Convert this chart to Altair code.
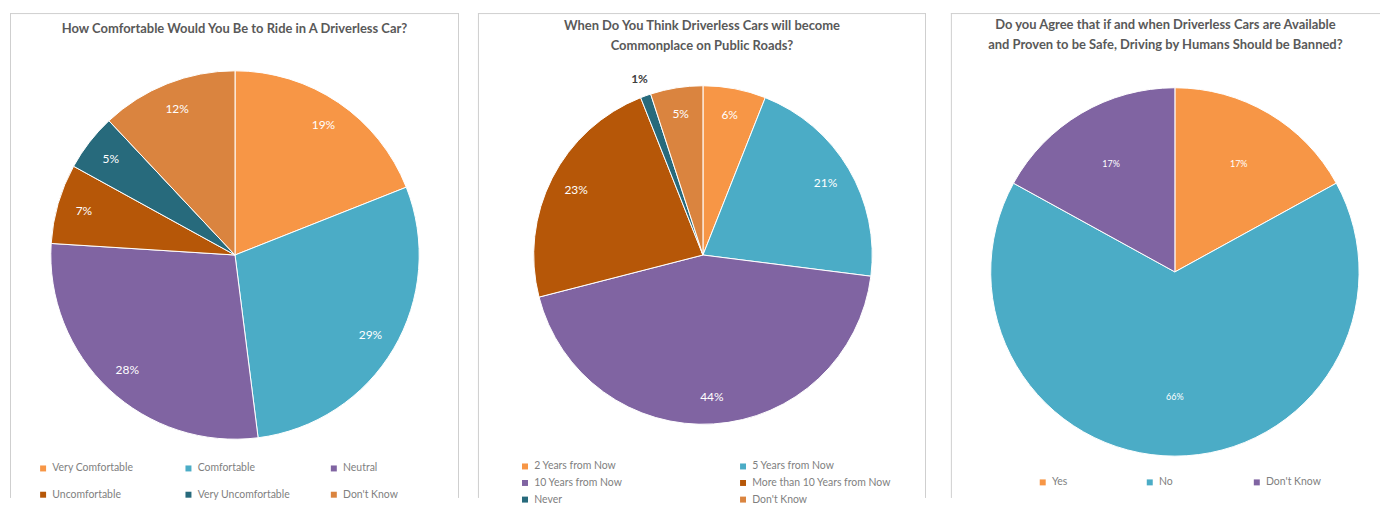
import altair as alt
import pandas as pd

# ---- data ----
q1_title = ["How Comfortable Would You Be to Ride in A Driverless Car?"]
q1_cats = ["Very Comfortable", "Comfortable", "Neutral", "Uncomfortable",
           "Very Uncomfortable", "Don't Know"]
q1_vals = [19, 29, 28, 7, 5, 12]

q2_title = ["When Do You Think Driverless Cars will become",
            "Commonplace on Public Roads?"]
q2_cats = ["2 Years from Now", "5 Years from Now", "10 Years from Now",
           "More than 10 Years from Now", "Never", "Don't Know"]
q2_vals = [6, 21, 44, 23, 1, 5]

q3_title = ["Do you Agree that if and when Driverless Cars are Available",
            "and Proven to be Safe, Driving by Humans Should be Banned?"]
q3_cats = ["Yes", "No", "Don't Know"]
q3_vals = [17, 66, 17]

C_ORANGE = "#F79646"
C_BLUE = "#4BACC6"
C_PURPLE = "#8064A2"
C_DKORANGE = "#B65708"
C_DKTEAL = "#276A7C"
C_MIDORANGE = "#DA843F"

q1_colors = [C_ORANGE, C_BLUE, C_PURPLE, C_DKORANGE, C_DKTEAL, C_MIDORANGE]
q2_colors = [C_ORANGE, C_BLUE, C_PURPLE, C_DKORANGE, C_DKTEAL, C_MIDORANGE]
q3_colors = [C_ORANGE, C_BLUE, C_PURPLE]

FONT = "Lato"
BORDER = "#CFCFCF"


def frame(W, H, right=True):
    one = alt.Chart(pd.DataFrame({"k": [0]}))
    parts = [
        one.mark_rule(color=BORDER, strokeWidth=1).encode(
            x=alt.value(0), x2=alt.value(W), y=alt.value(0.5)),
        one.mark_rule(color=BORDER, strokeWidth=1).encode(
            x=alt.value(0.5), y=alt.value(0), y2=alt.value(H)),
    ]
    if right:
        parts.append(one.mark_rule(color=BORDER, strokeWidth=1).encode(
            x=alt.value(W - 0.5), y=alt.value(0), y2=alt.value(H)))
    return parts


def pie(title, cats, vals, colors, W, H, cx, cy, r, label_r, label_size,
        cols, col_pad, row_pad, lx, ly, title_offset, right=True,
        label_size_legend=10.5):
    df = pd.DataFrame({"cat": cats, "val": vals, "idx": list(range(len(cats)))})
    base = alt.Chart(df).transform_calculate(
        label="datum.val + '%'"
    ).encode(
        theta=alt.Theta("val:Q", stack=True),
        order=alt.Order("idx:Q"),
    )
    arc = base.mark_arc(outerRadius=r, stroke="white", strokeWidth=1).encode(
        color=alt.Color(
            "cat:N",
            scale=alt.Scale(domain=cats, range=colors),
            sort=cats,
            legend=alt.Legend(
                title=None, orient="none", legendX=lx, legendY=ly,
                direction="horizontal",
                columns=cols, columnPadding=col_pad, rowPadding=row_pad,
                gridAlign="all", symbolType="square", symbolSize=36,
                symbolStrokeWidth=0, labelFont=FONT,
                labelFontSize=label_size_legend, labelColor="#7F7F7F",
                padding=0, labelLimit=400,
            ),
        ),
        x=alt.value(cx), y=alt.value(cy),
    )
    small = alt.datum.val < 3
    text_in = base.mark_text(font=FONT, fontSize=label_size, color="white").encode(
        text=alt.Text("label:N"),
        detail="cat:N",
        radius=alt.value(label_r),
        opacity=alt.condition(small, alt.value(0), alt.value(1)),
        x=alt.value(cx), y=alt.value(cy),
    )
    text_out = base.mark_text(font=FONT, fontSize=label_size, color="#404040",
                              fontWeight="bold").encode(
        text=alt.Text("label:N"),
        detail="cat:N",
        radius=alt.value(r + 18),
        opacity=alt.condition(small, alt.value(1), alt.value(0)),
        x=alt.value(cx), y=alt.value(cy),
    )
    return alt.layer(*frame(W, H, right), arc, text_in, text_out).properties(
        width=W, height=H,
        title=alt.Title(title, offset=title_offset, anchor="middle", font=FONT,
                        fontSize=13, fontWeight="bold", color="#595959",
                        lineHeight=20, frame="group"),
    )


H = 487
p1 = pie(q1_title, q1_cats, q1_vals, q1_colors, 451, H, 226, 243, 185, 158, 12,
         3, 38, 15.5, 28, 452, -24)
p2 = pie(q2_title, q2_cats, q2_vals, q2_colors, 450, H, 226, 243, 170, 143, 12,
         2, 65, 5.7, 42, 450, -41)
p3 = pie(q3_title, q3_cats, q3_vals, q3_colors, 431, H, 225, 260, 185, 126, 9,
         3, 37.5, 5, 87, 466, -40, right=False)

left = alt.hconcat(p1, p2, spacing=17).resolve_scale(color="independent")
chart = alt.hconcat(left, p3, spacing=23).resolve_scale(
    color="independent"
).properties(
    padding={"left": 1, "top": 3, "right": 0, "bottom": 0},
    background="white",
).configure_view(
    stroke=None
)

chart.save("out.html", embed_options={"renderer": "svg", "actions": False})
